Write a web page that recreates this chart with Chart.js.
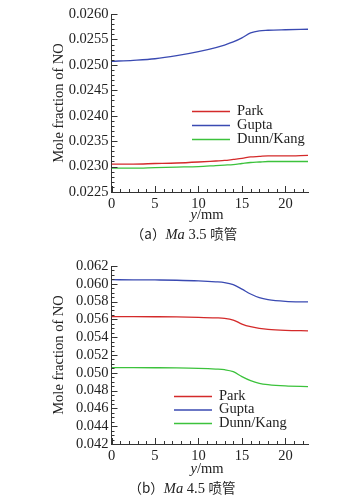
<!DOCTYPE html>
<html>
<head>
<meta charset="utf-8">
<script src="https://cdn.jsdelivr.net/npm/chart.js@4.4.0/dist/chart.umd.min.js"></script>
<style>
  html, body { margin: 0; padding: 0; background: #fff; }
  body { width: 344px; height: 498px; position: relative; overflow: hidden; }
  .panel { position: absolute; left: 0; width: 344px; height: 249px; }
  .txt { position: absolute; font-family: "Liberation Serif", "Noto Sans CJK SC", serif; color: #222; white-space: nowrap; text-align: center; }
  .xt { font-size: 14.5px; line-height: 16px; width: 100px; }
  .cap { font-size: 14.5px; line-height: 18px; width: 200px; }
  .cjk { font-family: "Noto Sans CJK SC", sans-serif; font-size: 13.5px; }
</style>
</head>
<body>
<div class="panel" style="top:0"><canvas id="c1" width="344" height="249"></canvas></div>
<div class="panel" style="top:250px"><canvas id="c2" width="344" height="249"></canvas></div>
<div class="txt xt" style="left:157px; top:206px;"><i>y</i>/mm</div>
<div class="txt cap" style="left:84px; top:224px;"><span class="cjk">（a）</span><i>Ma</i> 3.5 <span class="cjk">喷管</span></div>
<div class="txt xt" style="left:157px; top:460px;"><i>y</i>/mm</div>
<div class="txt cap" style="left:82px; top:478px;"><span class="cjk">（b）</span><i>Ma</i> 4.5 <span class="cjk">喷管</span></div>
<script>
// ---- data ----
const yPos = [0, 2.5, 5, 7.5, 10, 12, 13, 14, 15, 16, 17, 18, 20, 22.6];
const seriesNames = ["Park", "Gupta", "Dunn/Kang"];

// (a) Ma 3.5 nozzle
const parkA  = [0.02305, 0.02305, 0.02306, 0.02307, 0.02309, 0.02311, 0.02312, 0.02314, 0.02316, 0.02319, 0.02320, 0.02321, 0.02321, 0.02322];
const guptaA = [0.02507, 0.02509, 0.02512, 0.02518, 0.02526, 0.02534, 0.02539, 0.02545, 0.02553, 0.02563, 0.02567, 0.02568, 0.02569, 0.02570];
const dunnA  = [0.02297, 0.02297, 0.02298, 0.02299, 0.02300, 0.02302, 0.02303, 0.02304, 0.02306, 0.02308, 0.02309, 0.02310, 0.02310, 0.02310];

// (b) Ma 4.5 nozzle
const parkB  = [0.05631, 0.05631, 0.05630, 0.05628, 0.05623, 0.05617, 0.05612, 0.05593, 0.05548, 0.05518, 0.05500, 0.05488, 0.05477, 0.05472];
const guptaB = [0.06046, 0.06045, 0.06043, 0.06040, 0.06033, 0.06022, 0.06013, 0.05990, 0.05940, 0.05885, 0.05844, 0.05822, 0.05803, 0.05796];
const dunnB  = [0.05058, 0.05058, 0.05057, 0.05055, 0.05050, 0.05042, 0.05035, 0.05013, 0.04957, 0.04912, 0.04882, 0.04867, 0.04852, 0.04845];

const xTicksVals = [0, 5, 10, 15, 20];
const yTicksA = [0.0225, 0.0230, 0.0235, 0.0240, 0.0245, 0.0250, 0.0255, 0.0260];
const yTicksB = [0.042, 0.044, 0.046, 0.048, 0.050, 0.052, 0.054, 0.056, 0.058, 0.060, 0.062];

const colors = ["#d42a2a", "#3a4ab2", "#3cc23c"];
const serif = "'Liberation Serif', 'Times New Roman', serif";

// inward major + minor ticks
const innerTicks = {
  id: 'innerTicks',
  afterDraw(chart, args, o) {
    const ctx = chart.ctx, a = chart.chartArea;
    const xs = chart.scales.x, ys = chart.scales.y;
    ctx.save();
    ctx.strokeStyle = '#333';
    ctx.lineWidth = 1;
    ctx.beginPath();
    for (let i = 0; ; i++) {
      const v = xs.min + i * o.xMinor;
      if (v > xs.max + 1e-9) break;
      const px = Math.round(xs.getPixelForValue(v)) + 0.5;
      const major = Math.abs(v / o.xMajor - Math.round(v / o.xMajor)) < 1e-6;
      ctx.moveTo(px, a.bottom);
      ctx.lineTo(px, a.bottom - (major ? 6 : 3));
    }
    const n = Math.round((ys.max - ys.min) / o.yMinor);
    for (let i = 0; i <= n; i++) {
      const v = ys.min + i * o.yMinor;
      const py = Math.round(ys.getPixelForValue(v)) + 0.5;
      const major = (i % o.yPer) === 0;
      ctx.moveTo(a.left, py);
      ctx.lineTo(a.left + (major ? 6 : 3), py);
    }
    ctx.stroke();
    ctx.restore();
  }
};

// legend drawn inside the plot
const inLegend = {
  id: 'inLegend',
  afterDraw(chart, args, o) {
    const ctx = chart.ctx;
    ctx.save();
    ctx.font = "14.5px " + serif;
    ctx.textBaseline = 'middle';
    chart.data.datasets.forEach((ds, i) => {
      const y = o.y + i * o.rowH;
      ctx.strokeStyle = ds.borderColor;
      ctx.lineWidth = 1.3;
      ctx.beginPath();
      ctx.moveTo(o.x, y + 0.5);
      ctx.lineTo(o.x + o.len, y + 0.5);
      ctx.stroke();
      ctx.fillStyle = '#222';
      ctx.fillText(ds.label, o.x + o.len + 7, y);
    });
    ctx.restore();
  }
};

function makeChart(id, series, yMin, yMax, yStep, yDec, yMinor, yPer, padTop, padBottom, legendPos) {
  const datasets = series.map((arr, i) => ({
    label: seriesNames[i],
    data: yPos.map((x, k) => ({ x: x, y: arr[k] })),
    borderColor: colors[i],
    backgroundColor: colors[i],
    borderWidth: 1.3,
    pointRadius: 0,
    cubicInterpolationMode: 'monotone',
    fill: false
  }));
  return new Chart(document.getElementById(id), {
    type: 'line',
    data: { datasets },
    plugins: [innerTicks, inLegend],
    options: {
      responsive: false,
      animation: false,
      devicePixelRatio: 1,
      layout: { padding: { left: 0, right: 36, top: padTop, bottom: 0 } },
      plugins: {
        legend: { display: false },
        tooltip: { enabled: false },
        innerTicks: { xMinor: 1, xMajor: 5, yMinor: yMinor, yPer: yPer },
        inLegend: legendPos
      },
      scales: {
        x: {
          type: 'linear',
          min: 0, max: 22.6,
          afterFit(s) { s.height = padBottom; },
          grid: { display: false, drawTicks: false },
          border: { display: true, color: '#333', width: 1 },
          ticks: {
            stepSize: 5, includeBounds: false, padding: 3, maxRotation: 0, autoSkip: false,
            color: '#222', font: { family: serif, size: 14.5 },
            callback: v => xTicksVals.includes(v) ? String(v) : ''
          }
        },
        y: {
          type: 'linear',
          min: yMin, max: yMax,
          afterFit(s) { s.width = 111.5; },
          grid: { display: false, drawTicks: false },
          border: { display: true, color: '#333', width: 1 },
          ticks: {
            stepSize: yStep, padding: 3, autoSkip: false,
            color: '#222', font: { family: serif, size: 14.5 },
            callback: v => Number(v).toFixed(yDec)
          },
          title: {
            display: true, text: 'Mole fraction of NO',
            color: '#222', font: { family: serif, size: 14.5 },
            padding: { top: 50, bottom: 0 }
          }
        }
      }
    }
  });
}

makeChart('c1', [parkA, guptaA, dunnA], yTicksA[0], yTicksA[yTicksA.length - 1], 0.0005, 4, 0.0001, 5, 14, 57,
  { x: 192, y: 111, len: 38, rowH: 14 });
makeChart('c2', [parkB, guptaB, dunnB], yTicksB[0], yTicksB[yTicksB.length - 1], 0.002, 3, 0.0005, 4, 16, 55,
  { x: 174, y: 146, len: 38, rowH: 13.5 });
</script>
</body>
</html>
